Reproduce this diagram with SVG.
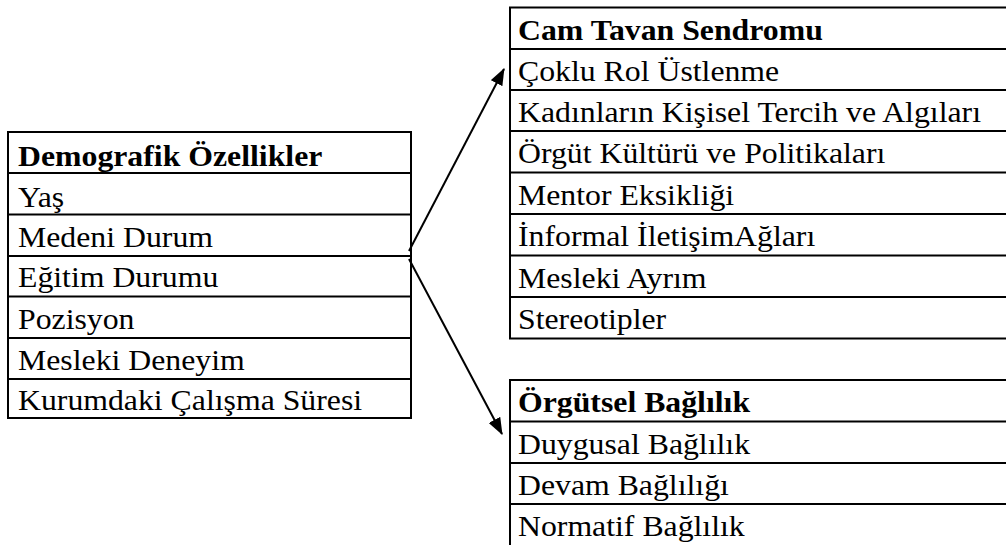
<svg xmlns="http://www.w3.org/2000/svg" width="1006" height="545" viewBox="0 0 1006 545">
<style>
.box{fill:#fff;stroke:#000;stroke-width:2}
.sep{stroke:#000;stroke-width:2}
.t{font-family:"Liberation Serif","Times New Roman",serif;font-size:28.5px;fill:#000}
.b{font-weight:bold}
.conn{stroke:#000;stroke-width:2;fill:none}
</style>
<defs>
<marker id="ah" markerUnits="userSpaceOnUse" markerWidth="17" markerHeight="13" refX="16" refY="6.5" orient="auto">
<path d="M0,0 L17,6.5 L0,13 z" fill="#000"/>
</marker>
</defs>
<rect width="1006" height="545" fill="#fff"/>

<g id="demografik">
<rect class="box" x="8" y="132" width="403" height="286"/>
<line class="sep" x1="8" y1="173" x2="411" y2="173"/>
<line class="sep" x1="8" y1="214.5" x2="411" y2="214.5"/>
<line class="sep" x1="8" y1="256" x2="411" y2="256"/>
<line class="sep" x1="8" y1="296.5" x2="411" y2="296.5"/>
<line class="sep" x1="8" y1="338" x2="411" y2="338"/>
<line class="sep" x1="8" y1="379" x2="411" y2="379"/>
<text class="t b" transform="matrix(1.115,0,0,1,18,166)">Demografik Özellikler</text>
<text class="t" transform="matrix(1.115,0,0,1,18,207)">Yaş</text>
<text class="t" transform="matrix(1.115,0,0,1,18,247)">Medeni Durum</text>
<text class="t" transform="matrix(1.115,0,0,1,18,287)">Eğitim Durumu</text>
<text class="t" transform="matrix(1.115,0,0,1,18,329)">Pozisyon</text>
<text class="t" transform="matrix(1.115,0,0,1,18,370)">Mesleki Deneyim</text>
<text class="t" transform="matrix(1.115,0,0,1,18,410)">Kurumdaki Çalışma Süresi</text>
</g>

<g id="camtavan">
<rect class="box" x="510" y="7.5" width="510" height="331"/>
<line class="sep" x1="510" y1="49" x2="1010" y2="49"/>
<line class="sep" x1="510" y1="90" x2="1010" y2="90"/>
<line class="sep" x1="510" y1="131" x2="1010" y2="131"/>
<line class="sep" x1="510" y1="172.5" x2="1010" y2="172.5"/>
<line class="sep" x1="510" y1="214" x2="1010" y2="214"/>
<line class="sep" x1="510" y1="255.5" x2="1010" y2="255.5"/>
<line class="sep" x1="510" y1="297" x2="1010" y2="297"/>
<text class="t b" transform="matrix(1.115,0,0,1,518,40)">Cam Tavan Sendromu</text>
<text class="t" transform="matrix(1.115,0,0,1,518,81)">Çoklu Rol Üstlenme</text>
<text class="t" transform="matrix(1.115,0,0,1,518,122)">Kadınların Kişisel Tercih ve Algıları</text>
<text class="t" transform="matrix(1.115,0,0,1,518,163)">Örgüt Kültürü ve Politikaları</text>
<text class="t" transform="matrix(1.115,0,0,1,518,205)">Mentor Eksikliği</text>
<text class="t" transform="matrix(1.115,0,0,1,518,246)">İnformal İletişimAğları</text>
<text class="t" transform="matrix(1.115,0,0,1,518,288)">Mesleki Ayrım</text>
<text class="t" transform="matrix(1.115,0,0,1,518,329)">Stereotipler</text>
</g>

<g id="orgutsel">
<rect class="box" x="510" y="380" width="510" height="170"/>
<line class="sep" x1="510" y1="421.5" x2="1010" y2="421.5"/>
<line class="sep" x1="510" y1="463" x2="1010" y2="463"/>
<line class="sep" x1="510" y1="504" x2="1010" y2="504"/>
<text class="t b" transform="matrix(1.115,0,0,1,518,412)">Örgütsel Bağlılık</text>
<text class="t" transform="matrix(1.115,0,0,1,518,454)">Duygusal Bağlılık</text>
<text class="t" transform="matrix(1.115,0,0,1,518,495)">Devam Bağlılığı</text>
<text class="t" transform="matrix(1.115,0,0,1,518,536)">Normatif Bağlılık</text>
</g>

<g id="connectors">
<line class="conn" x1="409" y1="251" x2="504" y2="69" marker-end="url(#ah)"/>
<line class="conn" x1="409" y1="259" x2="502" y2="434" marker-end="url(#ah)"/>
</g>
</svg>
